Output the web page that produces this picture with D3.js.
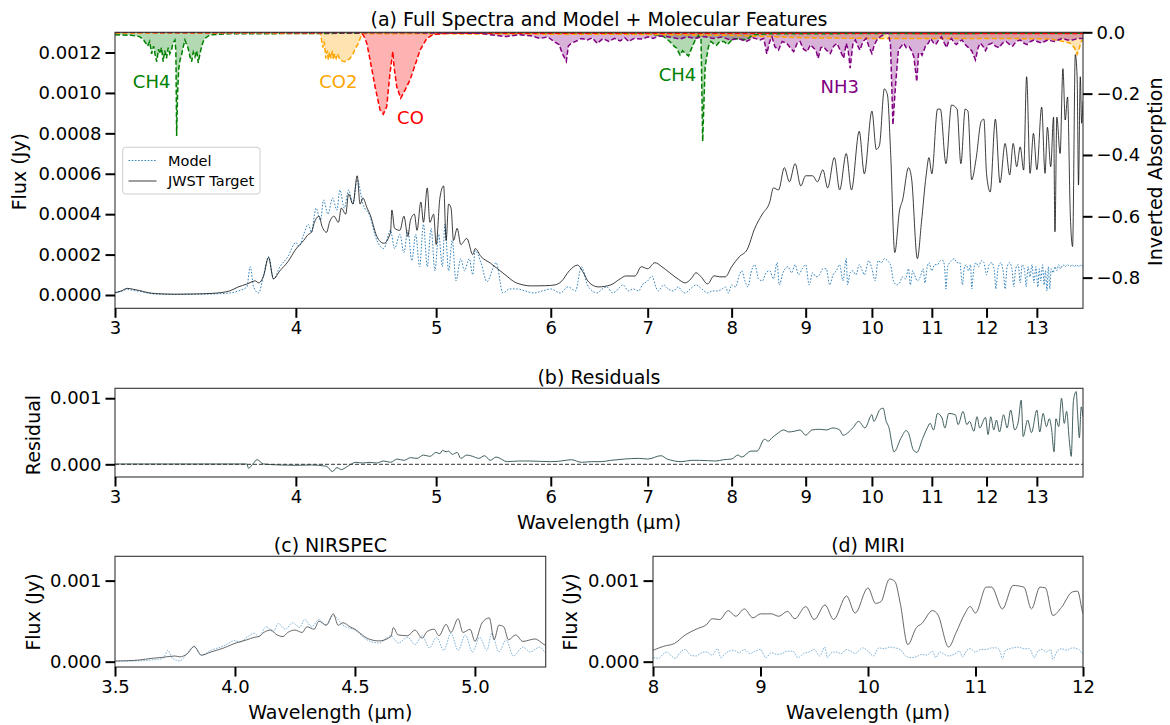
<!DOCTYPE html>
<html>
<head>
<meta charset="utf-8">
<script src="https://cdn.jsdelivr.net/npm/d3@7"></script>
<style>
  body { margin: 0; background: #fff; }
  svg { font-family: "DejaVu Sans", sans-serif; }
</style>
</head>
<body>
<svg id="fig" width="1170" height="725"></svg>
<script>
// ---------------- data ----------------
// wavelength in micron, flux in Jy
const targetSpectrum = [
  [3.00,0.000011],[3.03,0.000020],[3.06,0.000033],[3.09,0.000028],[3.12,0.000022],[3.16,0.000012],
  [3.20,0.000007],[3.30,0.000004],[3.40,0.000005],[3.50,0.000008],[3.55,0.000012],[3.60,0.000020],
  [3.65,0.000040],[3.70,0.000054],[3.75,0.000070],[3.77,0.000060],[3.80,0.000095],[3.83,0.000186],
  [3.86,0.000080],[3.90,0.000120],[3.95,0.000165],[4.00,0.000227],[4.05,0.000270],[4.08,0.000300],
  [4.10,0.000310],[4.12,0.000360],[4.15,0.000390],[4.17,0.000340],[4.20,0.000310],[4.22,0.000360],
  [4.25,0.000390],[4.28,0.000360],[4.30,0.000430],[4.33,0.000400],[4.35,0.000500],[4.38,0.000450],
  [4.41,0.000590],[4.43,0.000450],[4.45,0.000480],[4.48,0.000430],[4.50,0.000400],[4.55,0.000290],
  [4.60,0.000256],[4.65,0.000310],[4.66,0.000420],[4.68,0.000330],[4.72,0.000320],[4.75,0.000390],
  [4.78,0.000290],[4.80,0.000370],[4.83,0.000400],[4.85,0.000320],[4.88,0.000460],[4.90,0.000360],
  [4.93,0.000530],[4.95,0.000360],[4.98,0.000400],[5.00,0.000250],[5.03,0.000480],[5.06,0.000540],
  [5.08,0.000270],[5.10,0.000450],[5.12,0.000430],[5.14,0.000270],[5.17,0.000330],[5.20,0.000250],
  [5.25,0.000280],[5.30,0.000200],[5.32,0.000230],[5.37,0.000190],[5.45,0.000158],[5.58,0.000100],
  [5.68,0.000060],[5.82,0.000045],[5.95,0.000046],[6.04,0.000050],[6.10,0.000066],[6.18,0.000120],
  [6.26,0.000148],[6.32,0.000110],[6.37,0.000066],[6.47,0.000040],[6.60,0.000050],[6.70,0.000080],
  [6.76,0.000094],[6.86,0.000094],[6.93,0.000140],[7.00,0.000130],[7.08,0.000160],[7.16,0.000140],
  [7.25,0.000110],[7.35,0.000078],[7.43,0.000060],[7.50,0.000080],[7.56,0.000110],[7.62,0.000090],
  [7.70,0.000055],[7.78,0.000095],[7.85,0.000090],[7.92,0.000090],[8.00,0.000140],[8.10,0.000190],
  [8.20,0.000225],[8.30,0.000330],[8.40,0.000400],[8.50,0.000460],[8.55,0.000530],[8.62,0.000520],
  [8.70,0.000630],[8.77,0.000560],[8.85,0.000650],[8.93,0.000540],[9.00,0.000590],[9.10,0.000590],
  [9.17,0.000560],[9.25,0.000620],[9.32,0.000530],[9.42,0.000680],[9.50,0.000520],[9.60,0.000700],
  [9.68,0.000520],[9.80,0.000810],[9.88,0.000600],[10.00,0.000910],[10.07,0.000720],[10.12,0.000740],
  [10.20,0.001020],[10.25,0.000990],[10.30,0.000720],[10.37,0.000210],[10.45,0.000420],[10.50,0.000470],
  [10.60,0.000630],[10.65,0.000580],[10.75,0.000180],[10.82,0.000360],[10.90,0.000590],[10.95,0.000680],
  [11.00,0.000600],[11.10,0.000920],[11.15,0.000920],[11.25,0.000650],[11.35,0.000940],[11.45,0.000920],
  [11.52,0.000650],[11.60,0.000920],[11.65,0.000910],[11.72,0.000570],[11.80,0.000670],[11.90,0.000860],
  [11.95,0.000870],[12.00,0.000600],[12.07,0.000510],[12.17,0.000870],[12.26,0.000555],[12.36,0.000750],
  [12.45,0.000594],[12.52,0.000750],[12.59,0.000635],[12.66,0.000733],[12.73,0.000618],[12.79,0.001080],
  [12.86,0.000602],[12.93,0.000800],[13.00,0.000620],[13.10,0.000930],[13.17,0.000602],[13.22,0.000830],
  [13.29,0.000635],[13.35,0.000880],[13.38,0.000313],[13.42,0.000880],[13.49,0.000700],[13.55,0.001120],
  [13.60,0.000866],[13.65,0.000980],[13.71,0.000400],[13.76,0.000240],[13.82,0.001190],[13.86,0.001080],
  [13.89,0.000544],[13.93,0.001080],[13.96,0.000850],[13.99,0.000960]
];

const modelSpectrum = [
  [3.00,0.000012],[3.03,0.000018],[3.06,0.000028],[3.09,0.000022],[3.12,0.000018],[3.16,0.000010],
  [3.20,0.000005],[3.30,0.000003],[3.40,0.000004],[3.50,0.000005],[3.60,0.000010],[3.65,0.000020],
  [3.70,0.000040],[3.72,0.000140],[3.74,0.000040],[3.77,0.000010],[3.80,0.000100],[3.83,0.000190],
  [3.86,0.000080],[3.90,0.000140],[3.95,0.000190],[4.00,0.000260],[4.02,0.000240],[4.05,0.000300],
  [4.08,0.000350],[4.10,0.000310],[4.13,0.000430],[4.16,0.000370],[4.18,0.000470],[4.21,0.000400],
  [4.24,0.000480],[4.27,0.000420],[4.29,0.000520],[4.32,0.000430],[4.35,0.000520],[4.38,0.000450],
  [4.41,0.000570],[4.45,0.000450],[4.50,0.000390],[4.55,0.000270],[4.60,0.000230],[4.65,0.000320],
  [4.68,0.000230],[4.72,0.000300],[4.75,0.000210],[4.78,0.000320],[4.81,0.000170],[4.84,0.000300],
  [4.87,0.000140],[4.90,0.000350],[4.93,0.000140],[4.96,0.000330],[4.99,0.000120],[5.02,0.000300],
  [5.05,0.000140],[5.07,0.000350],[5.10,0.000120],[5.13,0.000270],[5.16,0.000070],[5.20,0.000180],
  [5.23,0.000120],[5.27,0.000180],[5.30,0.000100],[5.32,0.000220],[5.37,0.000160],[5.42,0.000066],
  [5.50,0.000160],[5.56,0.000010],[5.62,0.000030],[5.69,0.000030],[5.76,0.000020],[5.84,0.000010],
  [5.92,0.000020],[6.00,0.000030],[6.09,0.000010],[6.17,0.000040],[6.24,0.000020],[6.30,0.000140],
  [6.36,0.000050],[6.41,0.000020],[6.46,0.000010],[6.51,0.000030],[6.56,0.000040],[6.62,0.000010],
  [6.68,0.000030],[6.73,0.000050],[6.79,0.000020],[6.84,0.000030],[6.90,0.000020],[6.94,0.000050],
  [7.00,0.000070],[7.05,0.000094],[7.09,0.000040],[7.12,0.000020],[7.18,0.000050],[7.23,0.000030],
  [7.29,0.000020],[7.35,0.000040],[7.39,0.000020],[7.43,0.000010],[7.49,0.000030],[7.56,0.000050],
  [7.63,0.000030],[7.70,0.000010],[7.76,0.000020],[7.82,0.000020],[7.88,0.000030],[7.92,0.000040],
  [7.96,0.000010],[8.00,0.000050],[8.05,0.000040],[8.10,0.000100],[8.13,0.000120],[8.17,0.000070],
  [8.21,0.000040],[8.25,0.000110],[8.30,0.000150],[8.35,0.000080],[8.40,0.000070],[8.45,0.000110],
  [8.50,0.000120],[8.55,0.000080],[8.60,0.000160],[8.63,0.000050],[8.68,0.000110],[8.75,0.000140],
  [8.80,0.000110],[8.85,0.000150],[8.90,0.000100],[8.95,0.000130],[9.00,0.000150],[9.05,0.000050],
  [9.10,0.000110],[9.15,0.000090],[9.20,0.000100],[9.25,0.000130],[9.30,0.000130],[9.35,0.000050],
  [9.40,0.000100],[9.45,0.000120],[9.50,0.000150],[9.55,0.000070],[9.60,0.000180],[9.62,0.000050],
  [9.66,0.000110],[9.70,0.000120],[9.75,0.000100],[9.80,0.000150],[9.85,0.000120],[9.88,0.000100],
  [9.95,0.000170],[10.00,0.000130],[10.05,0.000070],[10.10,0.000170],[10.15,0.000160],[10.20,0.000180],
  [10.25,0.000170],[10.30,0.000150],[10.35,0.000070],[10.40,0.000050],[10.45,0.000060],[10.50,0.000090],
  [10.55,0.000080],[10.60,0.000130],[10.63,0.000050],[10.67,0.000120],[10.70,0.000100],[10.75,0.000070],
  [10.80,0.000090],[10.85,0.000130],[10.88,0.000060],[10.92,0.000140],[10.95,0.000160],[11.00,0.000120],
  [11.05,0.000150],[11.10,0.000150],[11.15,0.000170],[11.20,0.000170],[11.23,0.000120],[11.25,0.000030],
  [11.28,0.000140],[11.35,0.000170],[11.40,0.000180],[11.45,0.000160],[11.50,0.000160],[11.55,0.000050],
  [11.58,0.000130],[11.62,0.000150],[11.66,0.000120],[11.70,0.000150],[11.72,0.000030],[11.76,0.000130],
  [11.80,0.000160],[11.85,0.000140],[11.90,0.000170],[11.95,0.000160],[12.00,0.000100],[12.05,0.000150],
  [12.10,0.000160],[12.15,0.000120],[12.18,0.000030],[12.22,0.000130],[12.28,0.000160],[12.33,0.000100],
  [12.36,0.000030],[12.40,0.000140],[12.45,0.000160],[12.50,0.000120],[12.53,0.000040],[12.57,0.000130],
  [12.62,0.000150],[12.66,0.000060],[12.70,0.000150],[12.75,0.000120],[12.78,0.000040],[12.82,0.000140],
  [12.86,0.000090],[12.90,0.000150],[12.94,0.000060],[12.98,0.000140],[13.02,0.000040],[13.05,0.000130],
  [13.08,0.000070],[13.12,0.000150],[13.15,0.000050],[13.18,0.000120],[13.21,0.000020],[13.24,0.000140],
  [13.27,0.000030],[13.30,0.000130],[13.34,0.000110],[13.38,0.000140],[13.42,0.000120],[13.46,0.000150],
  [13.50,0.000130],[13.55,0.000150],[13.60,0.000140],[13.65,0.000150],[13.70,0.000140],[13.75,0.000150],
  [13.80,0.000140],[13.85,0.000150],[13.90,0.000140],[13.95,0.000150],[13.99,0.000140]
];

// target minus model
const residualSpectrum = [
  [3.00,0.000005],[3.70,0.000005],[3.71,-0.000060],[3.74,0.000020],[3.76,0.000070],[3.80,0.000005],
  [3.90,-0.000010],[4.00,-0.000015],[4.10,-0.000010],[4.20,-0.000030],[4.24,-0.000110],[4.27,-0.000050],
  [4.30,-0.000080],[4.35,-0.000020],[4.40,0.000030],[4.45,0.000020],[4.50,0.000030],[4.55,0.000020],
  [4.60,0.000050],[4.65,0.000030],[4.70,0.000080],[4.75,0.000060],[4.80,0.000100],[4.85,0.000090],
  [4.90,0.000140],[4.95,0.000120],[5.00,0.000180],[5.03,0.000160],[5.05,0.000210],[5.08,0.000190],
  [5.10,0.000200],[5.13,0.000150],[5.17,0.000180],[5.20,0.000090],[5.25,0.000140],[5.30,0.000120],
  [5.35,0.000090],[5.40,0.000130],[5.45,0.000060],[5.50,0.000110],[5.60,0.000040],[5.70,0.000050],
  [5.80,0.000050],[6.00,0.000040],[6.10,0.000050],[6.20,0.000070],[6.30,0.000030],[6.40,0.000040],
  [6.50,0.000040],[6.60,0.000060],[6.75,0.000080],[6.90,0.000090],[7.00,0.000080],[7.15,0.000130],
  [7.22,0.000080],[7.39,0.000040],[7.50,0.000060],[7.60,0.000060],[7.80,0.000050],[7.90,0.000070],
  [8.00,0.000080],[8.08,0.000140],[8.13,0.000110],[8.25,0.000200],[8.33,0.000200],[8.43,0.000380],
  [8.48,0.000350],[8.53,0.000400],[8.61,0.000470],[8.69,0.000520],[8.76,0.000490],[8.84,0.000500],
  [8.92,0.000520],[9.00,0.000440],[9.09,0.000520],[9.20,0.000530],[9.30,0.000520],[9.40,0.000550],
  [9.50,0.000520],[9.55,0.000440],[9.70,0.000550],[9.79,0.000650],[9.89,0.000550],[10.00,0.000750],
  [10.03,0.000650],[10.13,0.000830],[10.18,0.000850],[10.23,0.000650],[10.27,0.000570],[10.36,0.000190],
  [10.47,0.000390],[10.56,0.000510],[10.60,0.000470],[10.68,0.000220],[10.74,0.000180],[10.84,0.000390],
  [10.92,0.000550],[10.97,0.000620],[11.03,0.000520],[11.10,0.000770],[11.18,0.000700],[11.23,0.000550],
  [11.30,0.000770],[11.42,0.000750],[11.47,0.000600],[11.56,0.000800],[11.63,0.000600],[11.68,0.000650],
  [11.76,0.000500],[11.82,0.000720],[11.87,0.000550],[11.98,0.000710],[12.03,0.000450],[12.08,0.000720],
  [12.14,0.000520],[12.19,0.000670],[12.25,0.000490],[12.33,0.000750],[12.40,0.000550],[12.47,0.000820],
  [12.55,0.000520],[12.62,0.000640],[12.68,0.000970],[12.72,0.000420],[12.81,0.000670],[12.89,0.000480],
  [13.00,0.000820],[13.06,0.000490],[13.13,0.000770],[13.20,0.000570],[13.26,0.000690],[13.31,0.000520],
  [13.36,0.000190],[13.40,0.000690],[13.46,0.000570],[13.52,0.001000],[13.58,0.000620],[13.63,0.000800],
  [13.69,0.000350],[13.73,0.000120],[13.78,0.000970],[13.84,0.001100],[13.87,0.000770],[13.91,0.000400],
  [13.95,0.000870],[13.99,0.000720]
];

// molecular opacity templates, inverted absorption (0 = no absorption)
const ch4Absorption = [
  [3.00,-0.008],[3.08,-0.010],[3.12,-0.014],[3.14,-0.025],[3.16,-0.045],[3.17,-0.030],[3.18,-0.070],
  [3.19,-0.045],[3.20,-0.080],[3.206,-0.096],[3.215,-0.055],[3.222,-0.070],[3.23,-0.050],[3.239,-0.096],
  [3.247,-0.060],[3.256,-0.085],[3.265,-0.050],[3.273,-0.070],[3.282,-0.058],[3.29,-0.035],[3.30,-0.025],
  [3.305,-0.060],[3.309,-0.338],[3.314,-0.200],[3.32,-0.120],[3.327,-0.090],[3.335,-0.074],[3.345,-0.045],
  [3.353,-0.025],[3.362,-0.040],[3.37,-0.052],[3.38,-0.080],[3.389,-0.096],[3.398,-0.065],[3.407,-0.080],
  [3.416,-0.060],[3.425,-0.100],[3.434,-0.070],[3.443,-0.047],[3.452,-0.030],[3.461,-0.020],[3.489,-0.008],
  [3.60,-0.005],[4.50,-0.003],[6.00,-0.003],[7.00,-0.005],[7.12,-0.010],[7.18,-0.014],[7.25,-0.030],
  [7.30,-0.045],[7.33,-0.052],[7.37,-0.074],[7.40,-0.060],[7.43,-0.068],[7.47,-0.077],[7.51,-0.050],
  [7.55,-0.025],[7.59,-0.010],[7.62,-0.020],[7.64,-0.356],[7.67,-0.112],[7.71,-0.047],[7.74,-0.030],
  [7.77,-0.036],[7.81,-0.042],[7.85,-0.030],[7.90,-0.030],[7.95,-0.040],[8.02,-0.020],[8.10,-0.022],
  [8.19,-0.025],[8.28,-0.008],[8.50,-0.005],[10.0,-0.004],[13.99,-0.003]
];

const co2Absorption = [
  [3.00,-0.002],[4.16,-0.004],[4.175,-0.050],[4.185,-0.030],[4.195,-0.085],[4.205,-0.060],[4.212,-0.090],
  [4.22,-0.065],[4.23,-0.085],[4.24,-0.060],[4.246,-0.090],[4.255,-0.070],[4.265,-0.085],[4.275,-0.070],
  [4.291,-0.090],[4.31,-0.094],[4.325,-0.096],[4.345,-0.090],[4.36,-0.085],[4.383,-0.068],[4.40,-0.050],
  [4.418,-0.036],[4.442,-0.005],[5.00,-0.005],[6.00,-0.006],[7.00,-0.007],[8.00,-0.010],[8.50,-0.014],
  [9.00,-0.018],[10.0,-0.020],[11.0,-0.020],[12.0,-0.020],[13.0,-0.021],[13.3,-0.022],[13.5,-0.028],
  [13.7,-0.035],[13.80,-0.050],[13.86,-0.072],[13.90,-0.055],[13.95,-0.030],[13.99,-0.025]
];

const coAbsorption = [
  [3.00,-0.001],[4.40,-0.001],[4.442,-0.002],[4.46,-0.015],[4.478,-0.036],[4.501,-0.090],[4.537,-0.177],
  [4.573,-0.253],[4.597,-0.267],[4.622,-0.242],[4.646,-0.134],[4.667,-0.063],[4.676,-0.112],[4.696,-0.177],
  [4.726,-0.215],[4.759,-0.188],[4.797,-0.155],[4.835,-0.107],[4.874,-0.058],[4.926,-0.020],[4.978,-0.007],
  [5.10,-0.003],[8.00,-0.003],[13.99,-0.004]
];

const nh3Absorption = [
  [3.00,0],[5.00,-0.002],[5.36,-0.003],[5.45,-0.008],[5.59,-0.014],[5.70,-0.008],[5.81,-0.011],[5.90,-0.020],
  [5.97,-0.015],[6.03,-0.030],[6.08,-0.040],[6.11,-0.068],[6.15,-0.095],[6.17,-0.045],[6.20,-0.035],
  [6.24,-0.030],[6.30,-0.020],[6.36,-0.025],[6.41,-0.018],[6.46,-0.036],[6.52,-0.020],[6.58,-0.030],
  [6.64,-0.020],[6.70,-0.028],[6.75,-0.018],[6.79,-0.030],[6.85,-0.020],[6.94,-0.022],[7.00,-0.015],
  [7.06,-0.020],[7.13,-0.012],[7.21,-0.014],[7.30,-0.018],[7.37,-0.022],[7.45,-0.015],[7.55,-0.020],
  [7.65,-0.014],[7.77,-0.020],[7.88,-0.015],[7.98,-0.025],[8.08,-0.020],[8.19,-0.030],[8.28,-0.018],
  [8.37,-0.025],[8.42,-0.020],[8.46,-0.070],[8.50,-0.030],[8.53,-0.015],[8.57,-0.047],[8.62,-0.058],
  [8.67,-0.030],[8.73,-0.035],[8.78,-0.050],[8.83,-0.063],[8.88,-0.035],[8.92,-0.030],[8.97,-0.055],
  [9.02,-0.063],[9.07,-0.040],[9.11,-0.050],[9.15,-0.060],[9.18,-0.085],[9.22,-0.050],[9.26,-0.047],
  [9.31,-0.060],[9.36,-0.069],[9.41,-0.045],[9.46,-0.036],[9.51,-0.060],[9.56,-0.085],[9.60,-0.036],
  [9.63,-0.060],[9.66,-0.117],[9.70,-0.040],[9.74,-0.025],[9.78,-0.045],[9.81,-0.058],[9.86,-0.030],
  [9.91,-0.020],[9.95,-0.045],[10.00,-0.069],[10.04,-0.040],[10.08,-0.025],[10.13,-0.015],[10.18,-0.009],
  [10.26,0],[10.30,-0.040],[10.34,-0.302],[10.38,-0.180],[10.43,-0.058],[10.48,-0.045],[10.52,-0.036],
  [10.56,-0.050],[10.61,-0.047],[10.65,-0.060],[10.69,-0.080],[10.74,-0.161],[10.77,-0.070],[10.80,-0.065],
  [10.83,-0.075],[10.89,-0.045],[10.94,-0.035],[10.98,-0.020],[11.03,-0.035],[11.07,-0.040],[11.12,-0.025],
  [11.17,-0.015],[11.22,-0.035],[11.26,-0.050],[11.30,-0.030],[11.35,-0.020],[11.40,-0.035],[11.44,-0.040],
  [11.49,-0.030],[11.54,-0.025],[11.60,-0.040],[11.66,-0.050],[11.72,-0.060],[11.79,-0.090],[11.84,-0.050],
  [11.88,-0.035],[11.93,-0.045],[11.98,-0.060],[12.04,-0.040],[12.11,-0.035],[12.17,-0.045],[12.24,-0.050],
  [12.31,-0.035],[12.38,-0.030],[12.45,-0.040],[12.51,-0.045],[12.58,-0.030],[12.66,-0.025],[12.73,-0.035],
  [12.80,-0.040],[12.87,-0.030],[12.94,-0.025],[13.01,-0.030],[13.09,-0.035],[13.16,-0.030],[13.23,-0.025],
  [13.30,-0.028],[13.38,-0.030],[13.45,-0.025],[13.53,-0.020],[13.65,-0.025],[13.76,-0.025],[13.88,-0.020],
  [13.99,-0.020]
];

const molecules = [
  { name: "CH4", color: "#008000", values: ch4Absorption },
  { name: "CO2", color: "#ffa500", values: co2Absorption },
  { name: "CO",  color: "#ff0000", values: coAbsorption },
  { name: "NH3", color: "#800080", values: nh3Absorption }
];

// label anchors: [wavelength, inverted absorption]
const moleculeLabels = [
  { text: "CH4", at: [3.18, -0.159], color: "#008000" },
  { text: "CO2", at: [4.28, -0.159], color: "#ffa500" },
  { text: "CO",  at: [4.80, -0.277], color: "#ff0000" },
  { text: "CH4", at: [7.34, -0.139], color: "#008000" },
  { text: "NH3", at: [9.50, -0.177], color: "#800080" }
];

const wavelengthTicks = [3, 4, 5, 6, 7, 8, 9, 10, 11, 12, 13];
const fluxTicks = [0, 0.0002, 0.0004, 0.0006, 0.0008, 0.0010, 0.0012];
const absorptionTicks = [0, -0.2, -0.4, -0.6, -0.8];
const residualTicks = [0, 0.001];
const zoomFluxTicks = [0, 0.001];
const nirspecTicks = [3.5, 4.0, 4.5, 5.0];
const miriTicks = [8, 9, 10, 11, 12];

// ---------------- drawing ----------------
const svg = d3.select("#fig");
const TICK_FONT = 18, LABEL_FONT = 19;
const TICK_LEN = 9.5, TICK_W = 2;

const boxes = {
  a: { x0: 115, x1: 1083, y0: 32.3, y1: 308.3 },
  b: { x0: 115, x1: 1083, y0: 388.3, y1: 477 },
  c: { x0: 115, x1: 545.7, y0: 556.3, y1: 667 },
  d: { x0: 653, x1: 1083, y0: 556.3, y1: 667 }
};

const defs = svg.append("defs");
Object.entries(boxes).forEach(([k, b]) => {
  defs.append("clipPath").attr("id", "clip-" + k)
    .append("rect").attr("x", b.x0).attr("y", b.y0)
    .attr("width", b.x1 - b.x0).attr("height", b.y1 - b.y0);
});

function styleAxis(g) {
  g.select(".domain").remove();
  g.selectAll(".tick line").attr("stroke", "#000").attr("stroke-width", TICK_W);
  g.selectAll(".tick text").attr("fill", "#000").attr("font-size", TICK_FONT)
    .attr("font-family", '"DejaVu Sans", sans-serif');
}

function drawFrame(b) {
  svg.append("rect").attr("x", b.x0).attr("y", b.y0)
    .attr("width", b.x1 - b.x0).attr("height", b.y1 - b.y0)
    .attr("fill", "none").attr("stroke", "#333").attr("stroke-width", 1.1);
}

function xAxis(b, scale, ticks, fmt) {
  svg.append("g").attr("transform", `translate(0,${b.y1})`)
    .call(d3.axisBottom(scale).tickValues(ticks).tickFormat(fmt).tickSize(TICK_LEN).tickPadding(3.5))
    .call(styleAxis);
}
function yAxis(b, scale, ticks, fmt) {
  svg.append("g").attr("transform", `translate(${b.x0},0)`)
    .call(d3.axisLeft(scale).tickValues(ticks).tickFormat(fmt).tickSize(TICK_LEN).tickPadding(4))
    .call(styleAxis);
}
function text(x, y, str, opts = {}) {
  const t = svg.append("text").attr("x", x).attr("y", y).text(str)
    .attr("font-size", opts.size || LABEL_FONT).attr("fill", opts.color || "#000")
    .attr("text-anchor", opts.anchor || "middle");
  if (opts.central) t.attr("dominant-baseline", "central");
  if (opts.rotate) t.attr("transform", `rotate(${opts.rotate},${x},${y})`);
  return t;
}
function spectrumLine(g, data, x, y, style) {
  const line = d3.line().x(d => x(d[0])).y(d => y(d[1])).curve(style.curve || d3.curveMonotoneX);
  g.append("path").datum(data).attr("d", line).attr("fill", "none")
    .attr("stroke", style.color).attr("stroke-width", style.width)
    .attr("stroke-opacity", style.opacity == null ? 1 : style.opacity)
    .attr("stroke-dasharray", style.dash || null)
    .attr("stroke-linejoin", "round");
}

// ----- (a) full spectrum + molecular features -----
const A = boxes.a;
const xA = d3.scaleLog().domain([3, 13.99]).range([A.x0, A.x1]);
const yA = d3.scaleLinear().domain([-0.0000658, 0.0013]).range([A.y1, A.y0]);
const yAbs = d3.scaleLinear().domain([-0.9, 0]).range([A.y1, A.y0]);

const gA = svg.append("g").attr("clip-path", "url(#clip-a)");
const modelStyle = { color: "#1f77b4", width: 1, opacity: 0.9, dash: "1.6,1.6" };
const targetStyle = { color: "#000", width: 0.9, opacity: 0.85 };
spectrumLine(gA, modelSpectrum, xA, yA, modelStyle);
spectrumLine(gA, targetSpectrum, xA, yA, targetStyle);

// legend
const lg = svg.append("g");
lg.append("rect").attr("x", 122.7).attr("y", 147.3).attr("width", 137.3).attr("height", 46.7)
  .attr("rx", 3).attr("fill", "#fff").attr("fill-opacity", 0.8).attr("stroke", "#ccc").attr("stroke-width", 1);
const legendItems = [
  { label: "Model", style: modelStyle, y: 160.5 },
  { label: "JWST Target", style: targetStyle, y: 181 }
];
legendItems.forEach(it => {
  lg.append("line").attr("x1", 128.5).attr("x2", 156.5).attr("y1", it.y).attr("y2", it.y)
    .attr("stroke", it.style.color).attr("stroke-width", it.style.width)
    .attr("stroke-opacity", it.style.opacity).attr("stroke-dasharray", it.style.dash || null);
  lg.append("text").attr("x", 168).attr("y", it.y).attr("dominant-baseline", "central")
    .attr("font-size", 14.5).text(it.label);
});

// molecular features on the twin axis
const gMol = svg.append("g").attr("clip-path", "url(#clip-a)");
molecules.forEach(m => {
  const area = d3.area().x(d => xA(d[0])).y0(yAbs(0)).y1(d => yAbs(d[1]));
  gMol.append("path").datum(m.values).attr("d", area)
    .attr("fill", m.color).attr("fill-opacity", 0.3);
});
molecules.forEach(m => {
  const line = d3.line().x(d => xA(d[0])).y(d => yAbs(d[1]));
  gMol.append("path").datum(m.values).attr("d", line).attr("fill", "none")
    .attr("stroke", m.color).attr("stroke-width", 1.5).attr("stroke-dasharray", "5,2.5");
});
moleculeLabels.forEach(l => {
  text(xA(l.at[0]), yAbs(l.at[1]), l.text, { size: 18, color: l.color, central: true });
});

drawFrame(A);
xAxis(A, xA, wavelengthTicks, d3.format("d"));
yAxis(A, yA, fluxTicks, d3.format(".4f"));
svg.append("g").attr("transform", `translate(${A.x1},0)`)
  .call(d3.axisRight(yAbs).tickValues(absorptionTicks).tickFormat(d3.format(".1f")).tickSize(TICK_LEN).tickPadding(4))
  .call(styleAxis);

text((A.x0 + A.x1) / 2, 26, "(a) Full Spectra and Model + Molecular Features");
text(19, 171.7, "Flux (Jy)", { rotate: -90, central: true });
text(1155, 171.7, "Inverted Absorption", { rotate: -90, central: true });

// ----- (b) residuals -----
const B = boxes.b;
const xB = d3.scaleLog().domain([3, 13.99]).range([B.x0, B.x1]);
const yB = d3.scaleLinear().domain([-0.000192, 0.00115]).range([B.y1, B.y0]);
const gB = svg.append("g").attr("clip-path", "url(#clip-b)");
spectrumLine(gB, residualSpectrum, xB, yB, { color: "#2f4f4f", width: 1, opacity: 0.9 });
gB.append("line").attr("x1", B.x0).attr("x2", B.x1).attr("y1", yB(0)).attr("y2", yB(0))
  .attr("stroke", "#333").attr("stroke-width", 1).attr("stroke-dasharray", "4,2");
drawFrame(B);
xAxis(B, xB, wavelengthTicks, d3.format("d"));
yAxis(B, yB, residualTicks, d3.format(".3f"));
text((B.x0 + B.x1) / 2, 384, "(b) Residuals");
text((B.x0 + B.x1) / 2, 529, "Wavelength (\u00b5m)");
text(33, 435, "Residual", { rotate: -90, central: true });

// ----- (c) NIRSPEC and (d) MIRI zooms -----
function zoomPanel(box, key, domain, ticks, fmt, title) {
  const x = d3.scaleLinear().domain(domain).range([box.x0, box.x1]);
  const y = d3.scaleLinear().domain([-0.0000658, 0.0013]).range([box.y1, box.y0]);
  const g = svg.append("g").attr("clip-path", `url(#clip-${key})`);
  spectrumLine(g, modelSpectrum, x, y, { color: "#1f77b4", width: 1, opacity: 0.55, dash: "1.6,1.2" });
  spectrumLine(g, targetSpectrum, x, y, { color: "#444", width: 1, opacity: 0.8 });
  drawFrame(box);
  xAxis(box, x, ticks, fmt);
  yAxis(box, y, zoomFluxTicks, d3.format(".3f"));
  text((box.x0 + box.x1) / 2, 552, title);
  text((box.x0 + box.x1) / 2, 719, "Wavelength (\u00b5m)");
}
zoomPanel(boxes.c, "c", [3.5, 5.295], nirspecTicks, d3.format(".1f"), "(c) NIRSPEC");
zoomPanel(boxes.d, "d", [8, 12], miriTicks, d3.format("d"), "(d) MIRI");
text(33, 612, "Flux (Jy)", { rotate: -90, central: true });
text(570, 612, "Flux (Jy)", { rotate: -90, central: true });
</script>
</body>
</html>
